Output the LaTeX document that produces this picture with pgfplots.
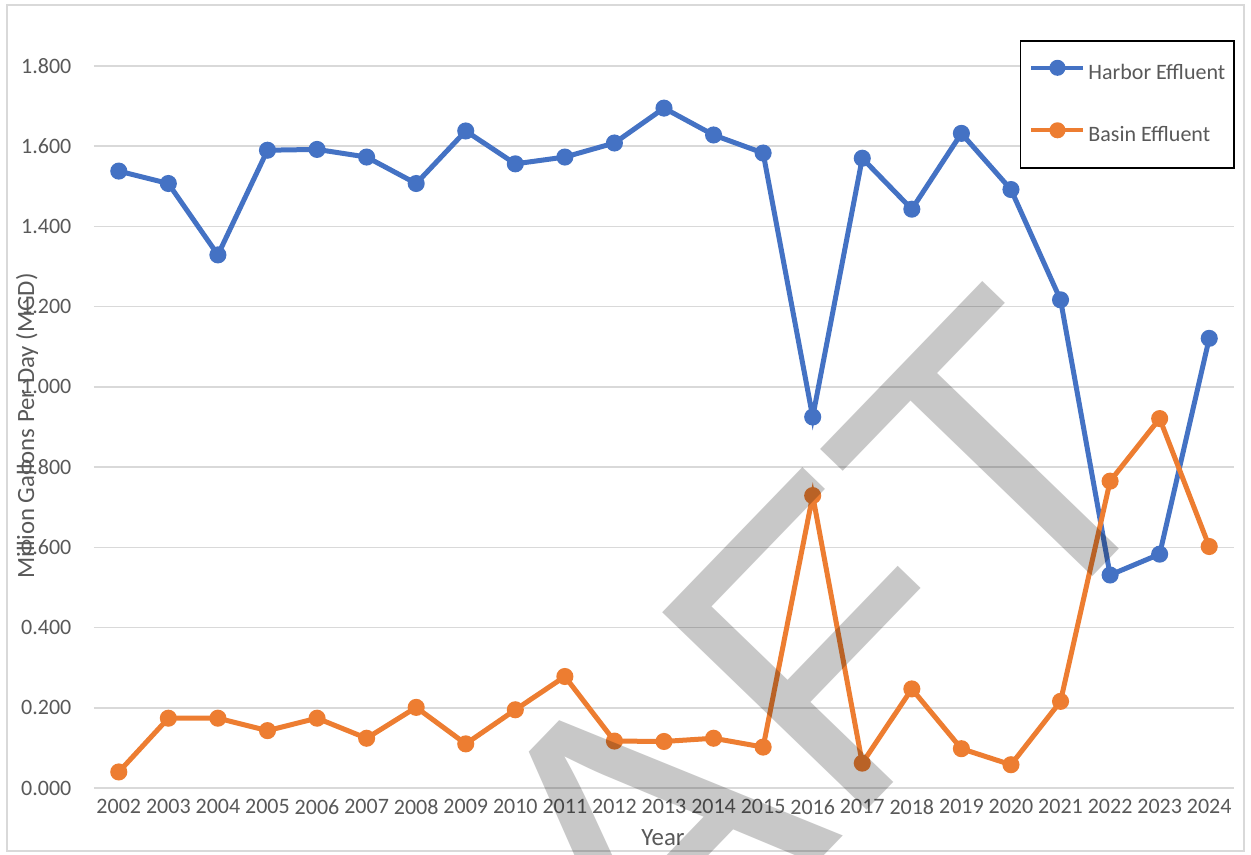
\documentclass[border=0pt]{standalone}
\usepackage{fontspec}
\setmainfont{Carlito}
\newfontfamily\wmfont{Liberation Sans}
\usepackage{pgfplots}
\pgfplotsset{compat=1.18}

\definecolor{harbor}{HTML}{4472C4}
\definecolor{basin}{HTML}{ED7D31}
\definecolor{labelgray}{HTML}{595959}
\definecolor{gridgray}{HTML}{D9D9D9}
\definecolor{framegray}{HTML}{D9D9D9}
\definecolor{wmgray}{RGB}{200,200,200}

\begin{document}
\begin{tikzpicture}
% page area and chart frame
\path[use as bounding box, fill=white] (0,0) rectangle (625.5pt,427.5pt);
\draw[framegray, line width=0.8pt] (3.5pt,2pt) rectangle (622pt,425pt);

\begin{axis}[
  at={(47pt,33.5pt)}, anchor=south west,
  width=570pt, height=361pt, scale only axis,
  xmin=-0.5, xmax=22.5, ymin=0, ymax=1.8,
  xtick={0,1,...,22},
  xticklabels={2002,2003,2004,2005,2006,2007,2008,2009,2010,2011,2012,2013,2014,2015,2016,2017,2018,2019,2020,2021,2022,2023,2024},
  ytick={0,0.2,0.4,0.6,0.8,1.0,1.2,1.4,1.6,1.8},
  ymajorgrids,
  grid style={draw=gridgray, line width=0.75pt},
  axis line style={draw=none},
  major tick style={draw=none},
  tick label style={font=\fontsize{11pt}{13pt}\selectfont, text=labelgray},
  xticklabel style={yshift=-2.3pt},
  yticklabel style={xshift=-7.8pt, /pgf/number format/.cd, fixed, fixed zerofill, precision=3, assume math mode=true},
  clip=false,
  legend cell align=left,
  legend style={
    at={(1.0009,1.036)}, anchor=north east,
    draw=black, line width=0.8pt,
    font=\fontsize{11pt}{13pt}\selectfont, text=labelgray,
    inner xsep=4.5pt, inner ysep=10.5pt,
    row sep=20pt,
    nodes={inner xsep=0pt, inner ysep=0pt, text height=8pt, text depth=2.5pt},
    /tikz/every odd column/.append style={column sep=1.5pt},
  },
  legend image code/.code={%
    \draw[mark repeat=2, mark phase=2, #1, line width=2pt] plot coordinates {(0pt,3pt) (13pt,3pt) (26pt,3pt)};
  },
  every axis plot/.append style={line width=2.5pt, mark=*, mark size=3pt,
    mark options={solid, line width=0.5pt}},
]

% Harbor effluent flow, MGD
\addplot[harbor, mark options={fill=harbor, draw=harbor}] coordinates {
  (0,1.538) (1,1.507) (2,1.329) (3,1.590) (4,1.592) (5,1.573) (6,1.507)
  (7,1.638) (8,1.556) (9,1.573) (10,1.608) (11,1.695) (12,1.628) (13,1.583)
  (14,0.925) (15,1.570) (16,1.443) (17,1.632) (18,1.492) (19,1.217)
  (20,0.531) (21,0.583) (22,1.121)
};
\addlegendentry{Harbor Effluent}

% Basin effluent flow, MGD
\addplot[basin, mark options={fill=basin, draw=basin}] coordinates {
  (0,0.040) (1,0.174) (2,0.174) (3,0.143) (4,0.174) (5,0.124) (6,0.201)
  (7,0.110) (8,0.195) (9,0.278) (10,0.117) (11,0.116) (12,0.124) (13,0.102)
  (14,0.729) (15,0.062) (16,0.247) (17,0.098) (18,0.058) (19,0.216)
  (20,0.765) (21,0.921) (22,0.602)
};
\addlegendentry{Basin Effluent}
\end{axis}

% axis titles
\node[rotate=90, text=labelgray, font=\fontsize{12.4pt}{14pt}\selectfont] at (13.5pt,214.5pt) {Million Gallons Per Day (MGD)};
\node[text=labelgray, font=\fontsize{12.4pt}{14pt}\selectfont] at (331.5pt,8.5pt) {Year};

% diagonal watermark
\begin{scope}[blend mode=multiply]
  \clip (0,0) rectangle (625.5pt,427.5pt);
  \node[rotate=46, anchor=base, text=wmgray, inner sep=0pt,
        font=\wmfont\fontsize{206.5pt}{206.5pt}\selectfont] at (358pt,-56pt) {DRAFT};
\end{scope}
\end{tikzpicture}
\end{document}
